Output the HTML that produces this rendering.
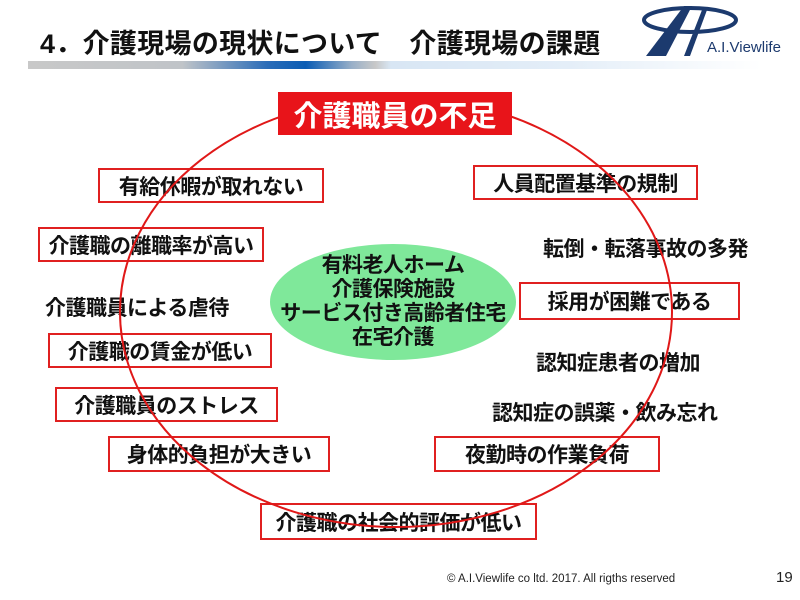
<!DOCTYPE html>
<html><head><meta charset="utf-8"><style>
body{margin:0;width:800px;height:600px;background:#fff;position:relative;overflow:hidden;font-family:"Liberation Sans","Noto Sans CJK JP",sans-serif;}
.a{position:absolute;}
.b{position:absolute;border:2px solid #e02020;box-sizing:border-box;font-weight:bold;font-size:21px;color:#111;display:flex;align-items:center;justify-content:center;white-space:nowrap;letter-spacing:-0.5px;}
.t{position:absolute;font-weight:bold;font-size:21px;color:#111;white-space:nowrap;letter-spacing:-0.5px;}
</style></head><body>
<div class="a" style="left:40px;top:22px;font-size:27px;font-weight:bold;color:#111;white-space:nowrap;letter-spacing:0.3px;">4．介護現場の現状について　介護現場の課題</div>
<div class="a" style="left:28px;top:61px;width:772px;height:8px;background:linear-gradient(90deg,#c8c8c8 0%,#c0c4c8 20%,#2a6cb8 31%,#0a5cb4 36%,#9ab0c8 42%,#c8c8c8 45%,#d8e6f4 47%,#e4eef8 70%,#fff 95%);"></div>
<svg class="a" style="left:640px;top:2px" width="160" height="56" viewBox="0 0 160 56">
<ellipse cx="50" cy="18" rx="46" ry="12" fill="none" stroke="#1c3a6e" stroke-width="4"/>
<polygon points="6,54 44,4 52,4 26,54" fill="#1c3a6e"/>
<polygon points="44,54 62,8 67,8 50,54" fill="#1c3a6e"/>
<text x="67" y="50" font-family="Liberation Sans" font-size="15" fill="#1c3a6e">A.I.Viewlife</text>
</svg>
<svg class="a" style="left:0;top:0" width="800" height="600">
<ellipse cx="393" cy="302" rx="123" ry="58" fill="#7fe89a"/>
</svg>
<div class="t" style="left:0;top:254px;width:786px;text-align:center;line-height:24px;font-size:21px;">有料老人ホーム<br>介護保険施設<br>サービス付き高齢者住宅<br>在宅介護</div>
<div class="b" style="left:98px;top:168px;width:226px;height:35px;">有給休暇が取れない</div>
<div class="b" style="left:473px;top:165px;width:225px;height:35px;">人員配置基準の規制</div>
<div class="b" style="left:38px;top:227px;width:226px;height:35px;">介護職の離職率が高い</div>
<div class="t" style="left:543px;top:233px;">転倒・転落事故の多発</div>
<div class="t" style="left:45px;top:292px;">介護職員による虐待</div>
<div class="b" style="left:519px;top:282px;width:221px;height:38px;">採用が困難である</div>
<div class="b" style="left:48px;top:333px;width:224px;height:35px;">介護職の賃金が低い</div>
<div class="t" style="left:536px;top:347px;">認知症患者の増加</div>
<div class="b" style="left:55px;top:387px;width:223px;height:35px;">介護職員のストレス</div>
<div class="t" style="left:492px;top:397px;">認知症の誤薬・飲み忘れ</div>
<div class="b" style="left:108px;top:436px;width:222px;height:36px;">身体的負担が大きい</div>
<div class="b" style="left:434px;top:436px;width:226px;height:36px;">夜勤時の作業負荷</div>
<div class="b" style="left:260px;top:503px;width:277px;height:37px;">介護職の社会的評価が低い</div>
<svg class="a" style="left:0;top:0" width="800" height="600">
<ellipse cx="396" cy="312" rx="276" ry="215" fill="none" stroke="#e01818" stroke-width="2"/>
</svg>
<div class="a" style="left:278px;top:92px;width:234px;height:43px;background:#e8141a;color:#fff;font-weight:bold;font-size:29px;display:flex;align-items:center;justify-content:center;">介護職員の不足</div>
<div class="a" style="left:447px;top:573px;font-size:11.5px;color:#222;white-space:nowrap;">© A.I.Viewlife co ltd. 2017. All rigths reserved</div>
<div class="a" style="left:776px;top:569px;font-size:15px;color:#222;">19</div>
</body></html>
